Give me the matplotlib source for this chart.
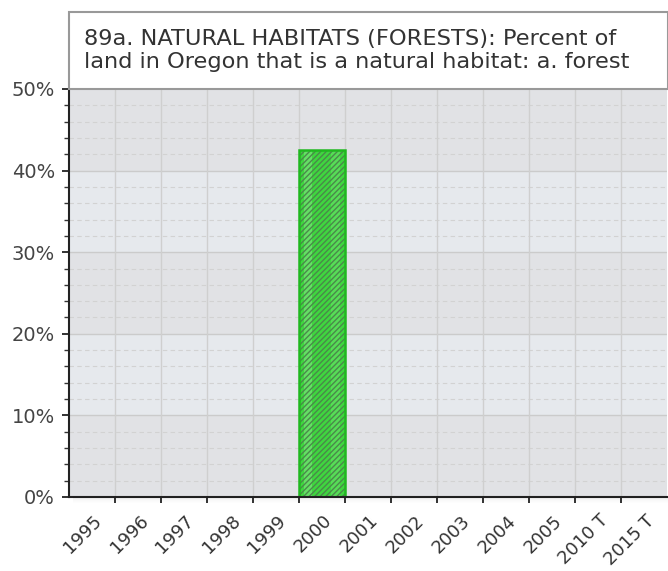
import matplotlib
matplotlib.use("Agg")
import matplotlib.pyplot as plt
from matplotlib.patches import Rectangle
from matplotlib.ticker import MultipleLocator, FuncFormatter
import numpy as np

categories = ["1995", "1996", "1997", "1998", "1999", "2000", "2001",
              "2002", "2003", "2004", "2005", "2010 T", "2015 T"]
values = [None, None, None, None, None, 42.5, None,
          None, None, None, None, None, None]
title_lines = ["89a. NATURAL HABITATS (FORESTS): Percent of",
               "land in Oregon that is a natural habitat: a. forest"]

W, H = 668, 571
fig = plt.figure(figsize=(W / 100, H / 100), dpi=100)
fig.patch.set_facecolor("white")

left, right, top, bottom = 69, 667, 89, 497
ax = fig.add_axes([left / W, 1 - bottom / H, (right - left) / W, (bottom - top) / H])
ax.set_facecolor("#e1e2e5")

n = len(categories)
x = np.arange(n)
ax.set_xlim(-0.5, n - 0.5)
ax.set_ylim(0, 50)

# alternating bands
for i, (lo, hi) in enumerate([(0, 10), (10, 20), (20, 30), (30, 40), (40, 50)]):
    col = "#e1e2e5" if i % 2 == 0 else "#e6e9ed"
    ax.axhspan(lo, hi, color=col, zorder=0, lw=0)

# grids
ax.yaxis.set_major_locator(MultipleLocator(10))
ax.yaxis.set_minor_locator(MultipleLocator(2))
ax.yaxis.set_major_formatter(FuncFormatter(lambda v, p: f"{int(v)}%"))
for yv in np.arange(2, 50, 2):
    if yv % 10 == 0:
        ax.axhline(yv, color="#cbcbcb", lw=1.0, zorder=1)
    else:
        ax.axhline(yv, color="#d2d2d2", lw=0.8, ls=(0, (4, 3)), zorder=1)
for xv in np.arange(0.5, n - 0.5, 1):
    ax.axvline(xv, color="#cfcfcf", lw=1.0, zorder=1)

ax.set_xticks(x + 0.16)
ax.set_xticks(np.arange(0.5, n - 0.5, 1), minor=True)
ax.set_xticklabels(categories, rotation=45, ha="right", va="center",
                   rotation_mode="anchor", fontsize=13, color="#333333")
ax.tick_params(axis="x", which="major", length=0, pad=15)
ax.tick_params(axis="x", which="minor", length=4.5, width=1.3, color="#222222", direction="out")
ax.tick_params(axis="y", which="major", length=5, width=1.3, color="#222222",
               labelsize=14, labelcolor="#444444", pad=5)
ax.tick_params(axis="y", which="minor", length=3.5, width=1.0, color="#333333")

for s in ["top", "right"]:
    ax.spines[s].set_visible(False)
ax.spines["left"].set_color("#222222")
ax.spines["left"].set_linewidth(1.5)
ax.spines["bottom"].set_color("#222222")
ax.spines["bottom"].set_linewidth(1.5)
ax.spines["bottom"].set_zorder(6)

# bars
plt.rcParams["hatch.linewidth"] = 1.0
for xi, v in zip(x, values):
    if v is None:
        continue
    ax.bar(xi, v, width=1.0, color="#3fd63f", edgecolor="none", zorder=3)
    ax.bar(xi - 0.3, v, width=0.18, color="#80e880", alpha=0.6, edgecolor="none", zorder=3)
    ax.bar(xi + 0.3, v, width=0.2, color="#70e470", alpha=0.5, edgecolor="none", zorder=3)
    ax.bar(xi, v, width=1.0, color="none", edgecolor="#4a8a4a", hatch="//////", lw=0, zorder=4)
    ax.bar(xi, v, width=1.0, color="none", edgecolor="#1fb81f", lw=1.8, zorder=5)

# shadow under the x axis
for k in range(1, 7):
    fig.add_artist(Rectangle(((left + 4) / W, 1 - (bottom + k) / H), (right - left) / W, 1 / H,
                             transform=fig.transFigure, facecolor="#000000",
                             alpha=0.05 * (7 - k) / 6, lw=0))

# title box
fig.add_artist(Rectangle((left / W, 1 - top / H), (right - left + 1) / W, (top - 12) / H,
                         transform=fig.transFigure, facecolor="white",
                         edgecolor="#999999", lw=1.5, zorder=2))
fig.text(84 / W, 1 - 45 / H, title_lines[0], fontsize=16.2, color="#333333",
         va="baseline", ha="left")
fig.text(84 / W, 1 - 68 / H, title_lines[1], fontsize=16.2, color="#333333",
         va="baseline", ha="left")

fig.savefig("out.png", dpi=100, facecolor="white")
